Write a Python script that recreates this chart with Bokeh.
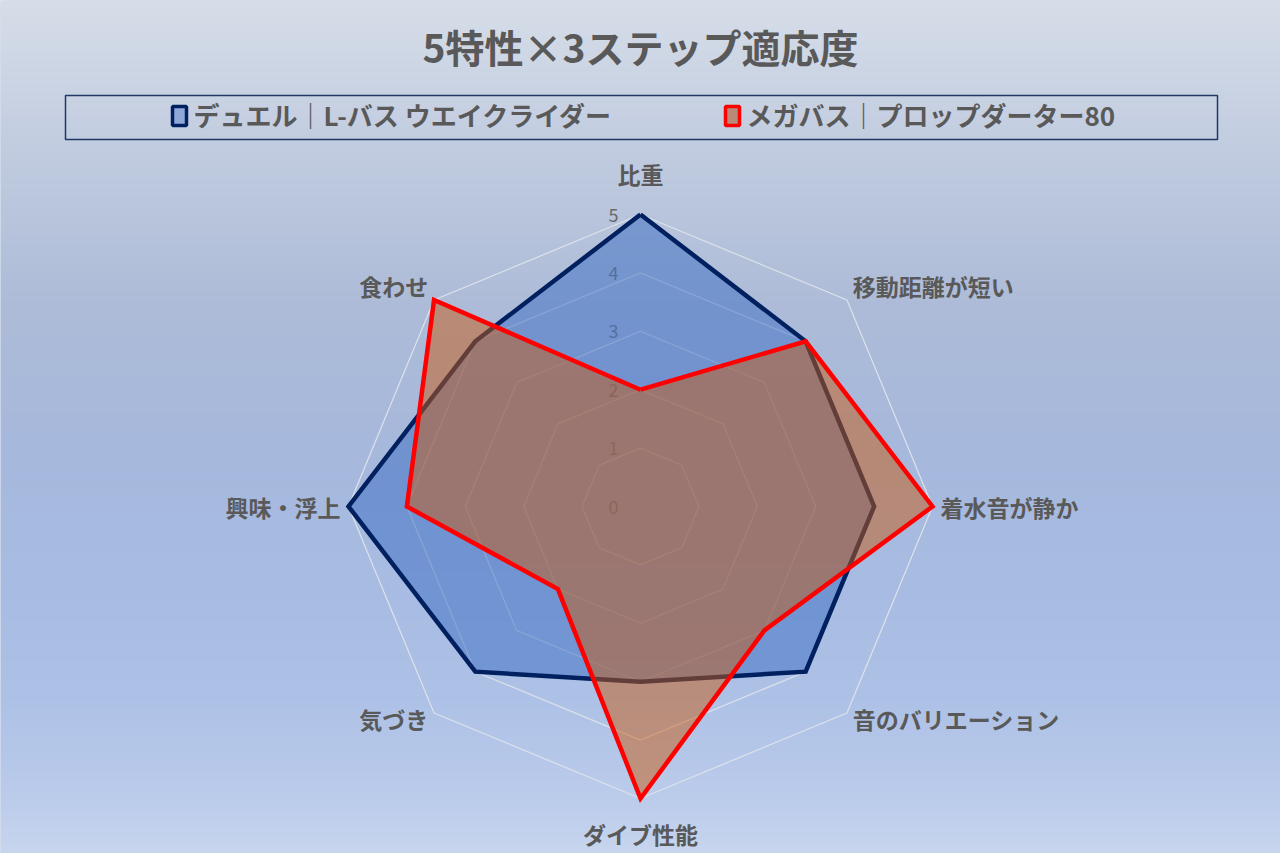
import numpy as np
from bokeh.plotting import figure
from bokeh.models import Range1d
from bokeh.core.properties import value
from bokeh.embed import file_html
from bokeh.resources import INLINE

# ---------------- data ----------------
title_text = "5特性×3ステップ適応度"
categories = ["比重", "移動距離が短い", "着水音が静か", "音のバリエーション",
              "ダイブ性能", "気づき", "興味・浮上", "食わせ"]
series_names = ["デュエル｜L-バス ウエイクライダー", "メガバス｜プロップダーター80"]
duel_values = [5, 4, 4, 4, 3, 4, 5, 4]
megabass_values = [2, 4, 5, 3, 5, 2, 4, 5]
tick_values = [0, 1, 2, 3, 4, 5]
tick_labels = ["0", "1", "2", "3", "4", "5"]

# ---------------- layout helpers ----------------
W, H = 1280, 853           # figure size
OFF = 0                    # page offset of the figure
CX, CY = 640.0, 506.0      # radar centre in page pixels
S = 58.4                   # pixels per value unit
FONT = value("Noto Sans CJK JP")
GRAY = "#595959"


def P(px, py):
    """page pixel -> data coordinates"""
    return (px - CX) / S, (CY - py) / S


n = len(categories)
angles = np.pi / 2 - np.arange(n) * 2 * np.pi / n


def polar(vals):
    v = np.asarray(vals, dtype=float)
    return list(v * np.cos(angles)), list(v * np.sin(angles))


x0, y0 = P(OFF, OFF)
x1, y1 = P(OFF + W, OFF + H)

p = figure(width=W, height=H, output_backend="svg", toolbar_location=None,
           x_range=Range1d(x0, x1), y_range=Range1d(y1, y0),
           min_border=0, min_border_left=0, min_border_right=0,
           min_border_top=0, min_border_bottom=0)
p.axis.visible = False
p.grid.visible = False
p.outline_line_color = None
p.background_fill_color = "#b0c0de"
p.border_fill_color = "#b0c0de"

# ---------------- gradient background ----------------
stops_y = [0, 150, 300, 450, 600, 700, 800, 853]
stops_c = [(215, 222, 233), (193, 204, 224), (174, 188, 216), (166, 184, 220),
           (169, 189, 228), (174, 194, 231), (188, 204, 235), (200, 214, 238)]
rows = np.arange(H)[::-1] + OFF        # row 0 is the bottom of the image
img = np.zeros((H, 1, 4), dtype=np.uint8)
for k in range(3):
    img[:, 0, k] = np.interp(rows, stops_y, [c[k] for c in stops_c]).astype(np.uint8)
img[:, :, 3] = 255
p.image_rgba(image=[img.view(dtype=np.uint32).reshape((H, 1))],
             x=x0, y=y1, dw=x1 - x0, dh=y0 - y1)

# ---------------- grid rings ----------------
for t in tick_values[1:]:
    gx, gy = polar([t] * n)
    p.line(gx + [gx[0]], gy + [gy[0]], line_color="#dde2ea", line_width=1.2)

# tick labels (under the fills)
tx = P(618, 0)[0]
p.text(x=[tx] * len(tick_values), y=[float(t) for t in tick_values], text=tick_labels,
       text_align="right", text_baseline="middle", text_font=FONT,
       text_font_size="18px", text_color="#6a6a6a")

# ---------------- series ----------------
bx, by = polar(duel_values)
p.patch(bx, by, fill_color="#4472c4", fill_alpha=0.55, line_color=None)
p.line(bx + [bx[0]], by + [by[0]], line_color="#002060", line_width=4.5, line_join="miter")

rx, ry = polar(megabass_values)
p.patch(rx, ry, fill_color="#c65911", fill_alpha=0.5, line_color=None)
p.line(rx + [rx[0]], ry + [ry[0]], line_color="#ff0000", line_width=4.5, line_join="miter")

# ---------------- category labels ----------------
lx, ly, la = [], [], []
for i, a in enumerate(angles):
    c, s_ = np.cos(a), np.sin(a)
    if abs(c) < 1e-6:
        r = 5 + (41 if s_ > 0 else 35) / S
        extra = 0.0
    else:
        r = 5 + 8 / S
        extra = 8 / S if s_ > 0.1 else 0.0
    lx.append(r * c)
    ly.append(r * s_ + extra)
    la.append("center" if abs(c) < 1e-6 else ("left" if c > 0 else "right"))
for al in ("center", "left", "right"):
    idx = [i for i in range(n) if la[i] == al]
    p.text(x=[lx[i] for i in idx], y=[ly[i] for i in idx],
           text=[categories[i] for i in idx], text_align=al, text_baseline="middle",
           text_font=FONT, text_font_style="bold", text_font_size="23px",
           text_color=GRAY)

# ---------------- title ----------------
t_x, t_y = P(640, 45)
p.text(x=[t_x], y=[t_y], text=[title_text], text_align="center", text_baseline="middle",
       text_font=FONT, text_font_style="bold", text_font_size="39px", text_color=GRAY)

# ---------------- legend ----------------
lb0 = P(65, 95)
lb1 = P(1217, 139)
p.quad(left=[lb0[0]], right=[lb1[0]], top=[lb0[1]], bottom=[lb1[1]],
       fill_color=None, line_color="#1f3864", line_width=1.5)

marker_px = [172, 725]
fills = [("#8fa8d8", "#002060"), ("#b98a76", "#ff0000")]
for k, name in enumerate(series_names):
    m0 = P(marker_px[k], 106)
    m1 = P(marker_px[k] + 14, 125)
    p.quad(left=[m0[0]], right=[m1[0]], top=[m0[1]], bottom=[m1[1]],
           fill_color=fills[k][0], line_color=fills[k][1], line_width=3.5)
    tp = P(marker_px[k] + 21, 114)
    p.text(x=[tp[0]], y=[tp[1]], text=[name], text_align="left", text_baseline="middle",
           text_font=FONT, text_font_style="bold", text_font_size="26px", text_color=GRAY)

open("out.html", "w").write(file_html(p, INLINE))
